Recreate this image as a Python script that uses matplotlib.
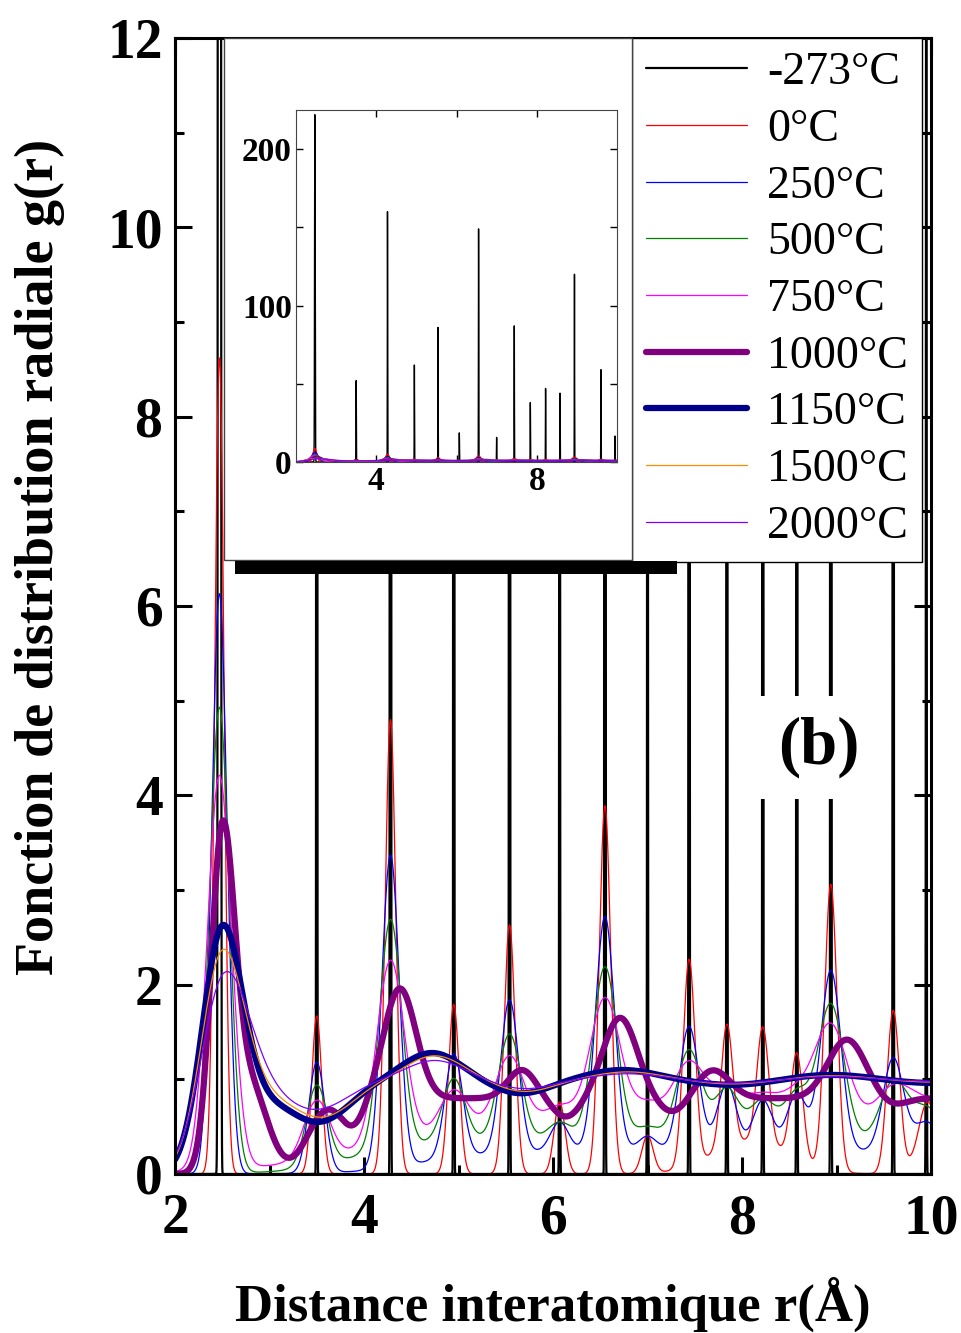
import numpy as np
import matplotlib.pyplot as plt
from matplotlib.patches import Rectangle
from matplotlib.ticker import MultipleLocator, FixedLocator

plt.rcParams['font.family'] = ['Liberation Serif', 'DejaVu Serif']

# legend entries
labels = ['-273°C', '0°C', '250°C', '500°C', '750°C', '1000°C', '1150°C', '1500°C', '2000°C']
colors = ['black', '#ff0000', '#0000ff', '#008000', '#ff00ff', '#800080', '#00008b', '#ff8c00', '#8000ff']
lws = [1.6, 0.9, 0.9, 0.9, 0.9, 4.5, 4.5, 0.9, 0.9]

# crystal shells (Angstrom) and peak heights
shell_r = [2.47, 3.50, 4.28, 4.95, 5.54, 6.07, 6.55, 7.00, 7.44, 7.84, 8.22, 8.58, 8.94, 9.60, 9.95]
h_m273 = [222, 52, 160, 62, 86, 18.6, 149, 15.7, 87, 38, 47, 44, 120, 59, 16.6]
sig_m273 = [0.0075, 0.0035, 0.0035, 0.0035, 0.0035, 0.0035, 0.0035, 0.0035,
            0.0035, 0.0035, 0.0035, 0.0035, 0.0035, 0.0035, 0.0035]
h_0 = [8.62, 1.67, 4.80, 1.79, 2.63, 0.76, 3.89, 0.40, 2.18, 1.30, 1.22, 1.11, 3.02, 1.71, 0.45]
h_250 = [6.13, 1.18, 3.37, 1.27, 1.84, 0.55, 2.72, 0.40, 1.56, 0.95, 0.78, 0.85, 2.15, 1.22, 0.55]
h_500 = [4.93, 0.94, 2.69, 1.01, 1.48, 0.55, 2.19, 0.50, 1.31, 0.90, 0.78, 0.85, 1.79, 0.96, 0.70]
h_750 = [4.21, 0.78, 2.26, 0.89, 1.25, 0.72, 1.86, 0.75, 1.18, 0.90, 0.82, 0.85, 1.57, 0.90, 0.78]
shell_sig = [0.049, 0.052, 0.055, 0.056, 0.057, 0.058, 0.06, 0.06, 0.062, 0.062, 0.063, 0.063, 0.065, 0.065, 0.08]

# liquid-like curves: first peak (r, g, sigma_left, sigma_right)
first_1000 = (2.50, 3.50, 0.12, 0.13)
first_1150 = (2.50, 2.63, 0.21, 0.22)
first_1500 = (2.50, 2.37, 0.22, 0.24)
first_2000 = (2.52, 2.13, 0.24, 0.27)
# further extrema: r, g value, width
ext_r_1000 = [2.80, 3.88, 4.38, 5.67, 6.14, 6.71, 7.27, 7.69, 9.11, 9.58]
ext_g_1000 = [0.90, 0.50, 1.96, 1.10, 0.60, 1.65, 0.64, 1.10, 1.42, 0.72]
ext_w_1000 = [0.18, 0.13, 0.17, 0.15, 0.15, 0.18, 0.16, 0.18, 0.20, 0.15]
ext_r_1150 = [3.52, 4.72, 5.66, 6.74, 7.90, 8.93, 10.0]
ext_g_1150 = [0.55, 1.28, 0.85, 1.10, 0.94, 1.05, 0.96]
ext_r_1500 = [3.55, 4.75, 5.70, 6.80, 7.90, 8.95, 10.0]
ext_g_1500 = [0.60, 1.25, 0.87, 1.08, 0.95, 1.04, 0.97]
ext_r_2000 = [3.50, 4.75, 5.70, 6.80, 7.90, 8.95, 10.0]
ext_g_2000 = [0.68, 1.20, 0.90, 1.06, 0.96, 1.03, 0.98]
ext_w_liq = [0.33, 0.30, 0.30, 0.35, 0.40, 0.40, 0.40]

r = np.linspace(2, 10, 24001)


def gauss(x, c, a, sl, sr):
    s = np.where(x < c, sl, sr)
    return a * np.exp(-(x - c) ** 2 / (2 * s ** 2))


def step(x, level, r_on, w):
    return level / (1 + np.exp(-(x - r_on) / w))


def crystal(h, scale, bg, fill=()):
    g = step(r, *bg)
    for c, hh, s in zip(shell_r, h, shell_sig):
        amp = hh - step(c, *bg)
        g += gauss(r, c, amp, s * scale, s * scale)
    for c, a, s in fill:
        g += gauss(r, c, a, s, s)
    return g


def liquid(first, bg, er, eg, ew):
    c, hh, sl, sr = first
    g = step(r, *bg) + gauss(r, c, hh - step(c, *bg), sl, sr)
    for c2, g2, w2 in zip(er, eg, ew):
        g += gauss(r, c2, g2 - step(c2, *bg), w2, w2)
    return g


curves = [
    sum(gauss(r, c, hh, s, s) for c, hh, s in zip(shell_r, h_m273, sig_m273)),
    crystal(h_0, 1.0, (0.0, 5.0, 0.5), [(8.1, 0.35, 0.4), (10.1, 0.4, 0.2)]),
    crystal(h_250, 1.65, (0.24, 4.6, 0.35)),
    crystal(h_500, 2.1, (0.36, 3.9, 0.35)),
    crystal(h_750, 2.6, (0.58, 4.1, 0.65)),
    liquid(first_1000, (0.8, 3.4, 0.1), ext_r_1000, ext_g_1000, ext_w_1000),
    liquid(first_1150, (1.0, 2.8, 0.15), ext_r_1150, ext_g_1150, ext_w_liq),
    liquid(first_1500, (1.0, 2.8, 0.15), ext_r_1500, ext_g_1500, ext_w_liq),
    liquid(first_2000, (1.0, 2.8, 0.16), ext_r_2000, ext_g_2000, ext_w_liq),
]

W, H = 961, 1333
fig = plt.figure(figsize=(9.61, 13.33), dpi=100)
ax = fig.add_axes([175 / W, (H - 1174) / H, 756 / W, 1136 / H])

for g, lab, col, lw in zip(curves, labels, colors, lws):
    ax.plot(r, g, color=col, lw=lw, label=lab, solid_capstyle='round')

ax.set_xlim(2, 10)
ax.set_ylim(0, 12)
ax.xaxis.set_major_locator(MultipleLocator(2))
ax.xaxis.set_minor_locator(MultipleLocator(1))
ax.yaxis.set_major_locator(MultipleLocator(2))
ax.yaxis.set_minor_locator(MultipleLocator(1))
ax.tick_params(which='both', direction='in', top=True, right=True, width=2.2)
ax.tick_params(which='major', length=12)
ax.tick_params(which='minor', length=6.5)
ax.tick_params(axis='x', pad=14)
ax.tick_params(axis='y', pad=9)
for t in ax.get_xticklabels() + ax.get_yticklabels():
    t.set_fontsize(40)
    t.set_fontweight('bold')
for sp in ax.spines.values():
    sp.set_linewidth(2.2)

ax.set_xlabel('Distance interatomique r(Å)', fontsize=38, fontweight='bold')
ax.set_ylabel('Fonction de distribution radiale g(r)', fontsize=39, fontweight='bold')
ax.xaxis.set_label_coords(0.5, -0.09)
ax.yaxis.set_label_coords(-0.145, 0.543)

ax.text(8.815, 4.51, '(b)', ha='center', va='center', fontsize=48, fontweight='bold',
        zorder=10, bbox=dict(facecolor='white', edgecolor='none', pad=15))

leg = ax.legend(loc='upper left', bbox_to_anchor=(632 / W, 1 - 38 / H), bbox_transform=fig.transFigure,
                fontsize=33, frameon=True, fancybox=False, edgecolor='black', framealpha=1,
                borderpad=0.3, labelspacing=0.31, handlelength=2.2, handletextpad=0.45,
                borderaxespad=0)
leg.get_frame().set_linewidth(1)

# white panel behind the inset and the black bar under it
fig.add_artist(Rectangle((224 / W, (H - 560) / H), 408 / W, 522 / H, transform=fig.transFigure,
                         facecolor='white', edgecolor='#444444', lw=1, zorder=3))
fig.add_artist(Rectangle((235 / W, (H - 574) / H), 442 / W, 13 / H, transform=fig.transFigure,
                         facecolor='black', edgecolor='none', zorder=3))

ins = fig.add_axes([296 / W, (H - 462) / H, 321 / W, 352 / H])
ins.set_zorder(5)
for g, col in zip(curves, colors):
    ins.plot(r, g, color=col, lw=1.0)
ins.set_xlim(2, 10)
ins.set_ylim(0, 225)
ins.xaxis.set_major_locator(FixedLocator([4, 8]))
ins.xaxis.set_minor_locator(FixedLocator([6]))
ins.yaxis.set_major_locator(FixedLocator([0, 100, 200]))
ins.yaxis.set_minor_locator(FixedLocator([50, 150]))
ins.tick_params(which='both', direction='in', top=True, right=True, width=1, length=5, pad=3)
for t in ins.get_xticklabels() + ins.get_yticklabels():
    t.set_fontsize(24)
    t.set_fontweight('bold')
for sp in ins.spines.values():
    sp.set_linewidth(0.8)
    sp.set_color('#444444')

fig.savefig('out.png', dpi=100)
